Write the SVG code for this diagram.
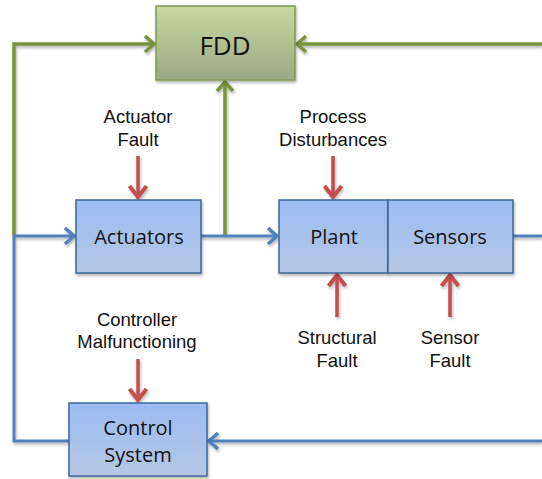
<svg xmlns="http://www.w3.org/2000/svg" width="542" height="479" viewBox="0 0 542 479">
<style>
.box{stroke:#3d6699;stroke-width:1.5}
.fdd{stroke:#7f9a4e;stroke-width:1.5}
.lbl{font-family:"Open Sans","Liberation Sans",sans-serif;font-size:20px;fill:#111;text-anchor:middle}
.ann{font-family:"Liberation Sans",Arial,sans-serif;font-size:18.5px;fill:#111;text-anchor:middle}
.blue{stroke:#4f81bd;stroke-width:3;fill:none}
.green{stroke:#77933c;stroke-width:3.5;fill:none}
.red{stroke:#c0504d;stroke-width:3.5;fill:none}
</style>
<defs>
<linearGradient id="gb" x1="0" y1="0" x2="0" y2="1">
<stop offset="0" stop-color="#9bbcf2"/>
<stop offset="1" stop-color="#b6c7e4"/>
</linearGradient>
<linearGradient id="gg" x1="0" y1="0" x2="0" y2="1">
<stop offset="0" stop-color="#c5d89f"/>
<stop offset="1" stop-color="#9aaa85"/>
</linearGradient>
<filter id="sh" x="-10%" y="-10%" width="130%" height="130%">
<feDropShadow dx="1" dy="2" stdDeviation="1.5" flood-color="#000" flood-opacity="0.3"/>
</filter>
<marker id="ab" markerUnits="userSpaceOnUse" markerWidth="20" markerHeight="20" refX="13" refY="10" orient="auto">
<path d="M4,2 L13,10 L4,18" fill="none" stroke="#4f81bd" stroke-width="3.5" stroke-linejoin="miter"/>
</marker>
<marker id="ag" markerUnits="userSpaceOnUse" markerWidth="20" markerHeight="20" refX="13" refY="10" orient="auto">
<path d="M4,2 L13,10 L4,18" fill="none" stroke="#77933c" stroke-width="3.5"/>
</marker>
<marker id="ar" markerUnits="userSpaceOnUse" markerWidth="22" markerHeight="22" refX="14" refY="11" orient="auto">
<path d="M3,2.5 L14,11 L3,19.5" fill="none" stroke="#c0504d" stroke-width="4"/>
</marker>
</defs>
<rect width="542" height="479" fill="#fff"/>
<g id="connectors" filter="url(#sh)">
<path class="green" d="M14,236 V44 H154" marker-end="url(#ag)"/>
<path class="green" d="M542,44 H297" marker-end="url(#ag)"/>
<path class="green" d="M225,236 V82" marker-end="url(#ag)"/>
<path class="blue" d="M14,236 H74" marker-end="url(#ab)"/>
<path class="blue" d="M201,236 H277" marker-end="url(#ab)"/>
<path class="blue" d="M513,236 H542"/>
<path class="blue" d="M69,441 H14 V236"/>
<path class="blue" d="M542,441 H209" marker-end="url(#ab)"/>
<path class="red" d="M138,156 V197" marker-end="url(#ar)"/>
<path class="red" d="M333,156 V197" marker-end="url(#ar)"/>
<path class="red" d="M337,317 V275" marker-end="url(#ar)"/>
<path class="red" d="M450,317 V275" marker-end="url(#ar)"/>
<path class="red" d="M138,359 V400" marker-end="url(#ar)"/>
</g>
<g id="fdd">
<rect class="fdd" x="156" y="6" width="139" height="74" fill="url(#gg)" filter="url(#sh)"/>
<text class="lbl" x="225" y="55" style="font-size:26px">FDD</text>
</g>
<g id="actuators">
<rect class="box" x="76" y="200" width="125" height="73" fill="url(#gb)" filter="url(#sh)"/>
<text class="lbl" x="139" y="244">Actuators</text>
</g>
<g id="plant">
<rect class="box" x="279" y="200" width="109" height="73" fill="url(#gb)" filter="url(#sh)"/>
<text class="lbl" x="334" y="244">Plant</text>
</g>
<g id="sensors">
<rect class="box" x="388" y="200" width="125" height="73" fill="url(#gb)" filter="url(#sh)"/>
<text class="lbl" x="450" y="244">Sensors</text>
</g>
<g id="control">
<rect class="box" x="69" y="403" width="138" height="73" fill="url(#gb)" filter="url(#sh)"/>
<text class="lbl" x="138" y="435">Control</text>
<text class="lbl" x="138" y="462">System</text>
</g>
<g id="actuator-fault">
<text class="ann" x="138" y="123">Actuator</text>
<text class="ann" x="138" y="146">Fault</text>
</g>
<g id="process-disturbances">
<text class="ann" x="333" y="123">Process</text>
<text class="ann" x="333" y="146">Disturbances</text>
</g>
<g id="structural-fault">
<text class="ann" x="337" y="344">Structural</text>
<text class="ann" x="337" y="367">Fault</text>
</g>
<g id="sensor-fault">
<text class="ann" x="450" y="344">Sensor</text>
<text class="ann" x="450" y="367">Fault</text>
</g>
<g id="controller-malfunctioning">
<text class="ann" x="137" y="326">Controller</text>
<text class="ann" x="137" y="348">Malfunctioning</text>
</g>
</svg>
